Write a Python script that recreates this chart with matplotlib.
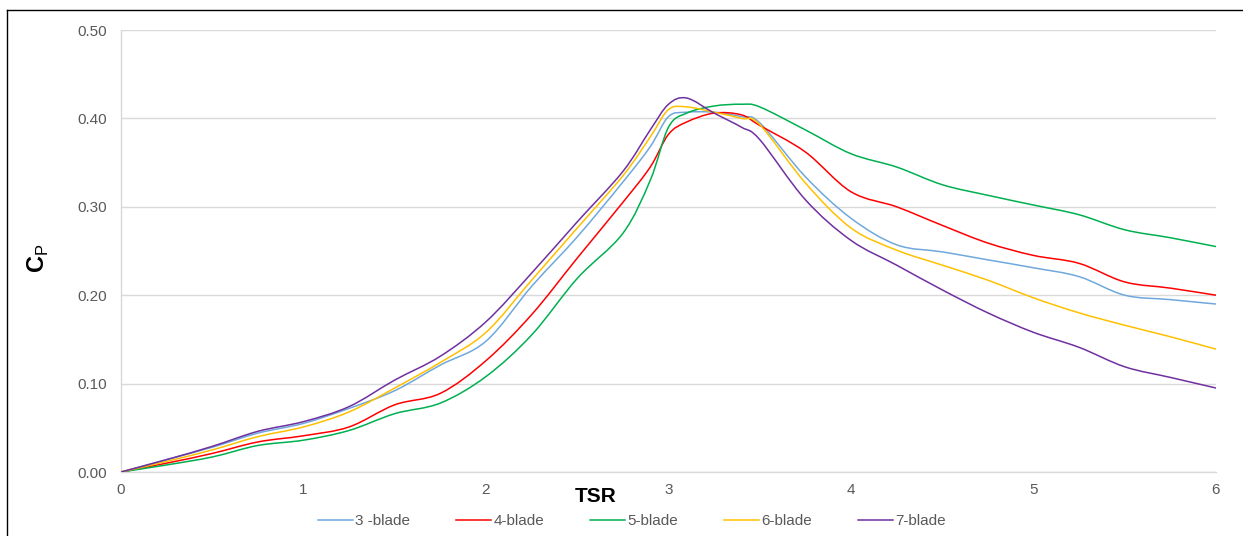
import numpy as np
import matplotlib
matplotlib.use("Agg")
import matplotlib.pyplot as plt
from matplotlib.path import Path
from matplotlib.patches import PathPatch
from matplotlib.lines import Line2D

plt.rcParams['font.family'] = ['Liberation Sans', 'DejaVu Sans']
plt.rcParams['mathtext.fontset'] = 'custom'
plt.rcParams['mathtext.rm'] = 'Liberation Sans'
plt.rcParams['mathtext.bf'] = 'Liberation Sans:bold'

# values
tsr = [0, 0.25, 0.5, 0.75, 1.0, 1.25, 1.5, 1.75, 2.0, 2.25, 2.5, 2.75, 2.9, 3.0,
       3.1, 3.25, 3.4, 3.5, 3.75, 4.0, 4.25, 4.5, 4.75, 5.0, 5.25, 5.5, 5.75, 6.0]
blade3 = [0, 0.014, 0.028, 0.044, 0.055, 0.072, 0.092, 0.121, 0.148, 0.210, 0.266, 0.328, 0.368, 0.402,
          0.407, 0.407, 0.402, 0.395, 0.334, 0.287, 0.257, 0.249, 0.240, 0.231, 0.221, 0.200, 0.195, 0.190]
blade4 = [0, 0.010, 0.021, 0.034, 0.041, 0.051, 0.076, 0.089, 0.126, 0.178, 0.242, 0.305, 0.345, 0.382,
          0.396, 0.406, 0.404, 0.392, 0.362, 0.317, 0.300, 0.279, 0.259, 0.245, 0.236, 0.215, 0.208, 0.200]
blade5 = [0, 0.008, 0.017, 0.030, 0.036, 0.047, 0.066, 0.078, 0.108, 0.155, 0.219, 0.270, 0.330, 0.390,
          0.406, 0.414, 0.416, 0.413, 0.387, 0.360, 0.345, 0.325, 0.313, 0.302, 0.291, 0.274, 0.265, 0.255]
blade6 = [0, 0.012, 0.025, 0.040, 0.051, 0.068, 0.095, 0.124, 0.158, 0.217, 0.276, 0.335, 0.379, 0.410,
          0.413, 0.407, 0.400, 0.393, 0.327, 0.276, 0.251, 0.234, 0.217, 0.197, 0.180, 0.166, 0.153, 0.139]
blade7 = [0, 0.014, 0.029, 0.046, 0.057, 0.074, 0.104, 0.131, 0.170, 0.225, 0.283, 0.340, 0.387, 0.416,
          0.423, 0.406, 0.390, 0.376, 0.308, 0.262, 0.234, 0.206, 0.180, 0.158, 0.141, 0.119, 0.107, 0.095]

labels = ['3 -blade', '4-blade', '5-blade', '6-blade', '7-blade']
colors = ['#6FA8DC', '#FF0000', '#00B050', '#FFC000', '#7030A0']


def smooth_path(x, y):
    # Catmull-Rom style bezier like Excel's smoothed line
    p = np.column_stack([x, y])
    verts = [p[0]]
    codes = [Path.MOVETO]
    n = len(p)
    for i in range(n - 1):
        p0 = p[i - 1] if i > 0 else p[i]
        p3 = p[i + 2] if i + 2 < n else p[i + 1]
        c1 = p[i] + (p[i + 1] - p0) / 6.0
        c2 = p[i + 1] - (p3 - p[i]) / 6.0
        verts += [c1, c2, p[i + 1]]
        codes += [Path.CURVE4] * 3
    return Path(verts, codes)


fig = plt.figure(figsize=(12.43, 5.36), dpi=100)
ax = fig.add_axes([121/1243, 1-472/536, (1216-121)/1243, (472-30)/536])

handles = []
for ys, c, lab in zip([blade3, blade4, blade5, blade6, blade7], colors, labels):
    ax.add_patch(PathPatch(smooth_path(tsr, ys), fill=False, edgecolor=c, lw=1.1, zorder=3))
    handles.append(Line2D([], [], color=c, lw=1.1, label=lab))

ax.set_xlim(0, 6)
ax.set_ylim(0, 0.5)
ax.set_xticks(range(7))
ax.set_yticks(np.arange(0, 0.51, 0.1))
ax.set_yticklabels(['%.2f' % v for v in np.arange(0, 0.51, 0.1)])
ax.tick_params(length=0, labelsize=11, colors='#595959')
ax.tick_params(axis='x', pad=8)
ax.tick_params(axis='y', pad=10)
ax.grid(axis='y', color='#d9d9d9', lw=1)
ax.set_axisbelow(True)
for s in ['top', 'right']:
    ax.spines[s].set_visible(False)
for s in ['left', 'bottom']:
    ax.spines[s].set_color('#d9d9d9')
    ax.spines[s].set_linewidth(1)

fig.text(596/1243, 1-497/536, 'TSR', fontsize=15, fontweight='bold', ha='center', va='center')
fig.text(38/1243, 1-258/536, r'$\mathbf{C}_{\mathrm{P}}$', fontsize=17, rotation=90,
         ha='center', va='center')

fig.legend(handles=handles, loc='center', bbox_to_anchor=(632/1243, 1-521/536), ncol=5,
           frameon=False, fontsize=11, handlelength=2.3, handletextpad=0.15,
           columnspacing=3.0, labelcolor='#595959')

# outer frame of the original image
fig.add_artist(Line2D([7/1243, 1.0], [1-10/536, 1-10/536], transform=fig.transFigure, color='k', lw=1))
fig.add_artist(Line2D([7/1243, 7/1243], [0, 1-10/536], transform=fig.transFigure, color='k', lw=1))

fig.savefig('out.png', dpi=100)
